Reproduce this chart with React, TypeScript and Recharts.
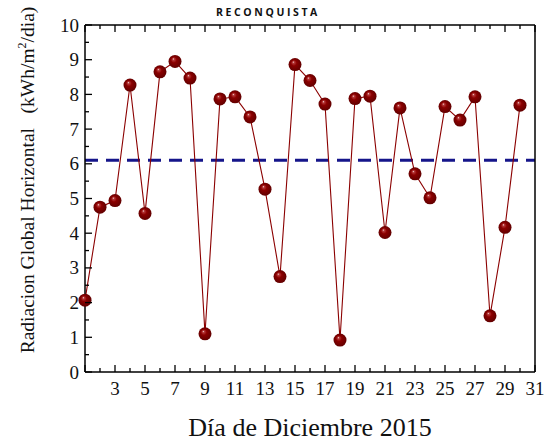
import React from 'react';
import { LineChart, Line, XAxis, YAxis, ReferenceLine } from 'recharts';

// Daily global horizontal radiation, Reconquista, December 2015
const days = [
  1, 2, 3, 4, 5, 6, 7, 8, 9, 10, 11, 12, 13, 14, 15,
  16, 17, 18, 19, 20, 21, 22, 23, 24, 25, 26, 27, 28, 29, 30,
];
const radiation = [
  2.07, 4.75, 4.94, 8.27, 4.57, 8.65, 8.95, 8.47, 1.1, 7.87,
  7.93, 7.35, 5.27, 2.75, 8.86, 8.4, 7.72, 0.92, 7.88, 7.95,
  4.02, 7.61, 5.71, 5.02, 7.65, 7.26, 7.93, 1.62, 4.17, 7.69,
];
const monthlyMean = 6.1;

const xTicks = [
  1, 2, 3, 4, 5, 6, 7, 8, 9, 10, 11, 12, 13, 14, 15, 16,
  17, 18, 19, 20, 21, 22, 23, 24, 25, 26, 27, 28, 29, 30, 31,
];
const yTicks = [
  0, 0.5, 1, 1.5, 2, 2.5, 3, 3.5, 4, 4.5, 5, 5.5, 6, 6.5, 7, 7.5, 8, 8.5, 9, 9.5, 10,
];

const data = days.map((day, i) => ({ day, value: radiation[i] }));

const SERIF = '"Liberation Serif", "Times New Roman", serif';
const TICK_FONT = 19;

const BottomTick = (props: any) => {
  const { x, y, payload } = props;
  const v = payload.value;
  const major = v % 2 === 1;
  return (
    <g>
      <line x1={x} x2={x} y1={y} y2={y - (major ? 7 : 4)} stroke="#000" strokeWidth={1.3} />
      {major && v >= 3 && (
        <text x={x} y={y + 23} textAnchor="middle" fontFamily={SERIF} fontSize={TICK_FONT} fill="#111">
          {v}
        </text>
      )}
    </g>
  );
};

const TopTick = (props: any) => {
  const { x, y, payload } = props;
  const major = payload.value % 2 === 1;
  return <line x1={x} x2={x} y1={y} y2={y + (major ? 7 : 4)} stroke="#000" strokeWidth={1.3} />;
};

const LeftTick = (props: any) => {
  const { x, y, payload } = props;
  const v = payload.value;
  const major = Number.isInteger(v);
  return (
    <g>
      <line x1={x} x2={x + (major ? 7 : 4)} y1={y} y2={y} stroke="#000" strokeWidth={1.3} />
      {major && (
        <text x={x - 6} y={y + 6.5} textAnchor="end" fontFamily={SERIF} fontSize={TICK_FONT} fill="#111">
          {v}
        </text>
      )}
    </g>
  );
};

const RightTick = (props: any) => {
  const { x, y, payload } = props;
  const major = Number.isInteger(payload.value);
  return <line x1={x} x2={x - (major ? 7 : 4)} y1={y} y2={y} stroke="#000" strokeWidth={1.3} />;
};

const Ball = (props: any) => {
  const { cx, cy, index } = props;
  if (cx == null || cy == null) return null;
  return <circle key={`ball-${index}`} cx={cx} cy={cy} r={6.5} fill="url(#ballFill)" />;
};

export default function App() {
  return (
    <div style={{ position: 'absolute', left: 0, top: 0, width: 551, height: 446, background: '#fff' }}>
      <LineChart
        width={551}
        height={446}
        data={data}
        margin={{ top: 0, right: 0, bottom: 0, left: 0 }}
      >
        <defs>
          <radialGradient id="ballFill" cx="50%" cy="50%" r="55%" fx="36%" fy="30%">
            <stop offset="0%" stopColor="#fbe6e6" />
            <stop offset="14%" stopColor="#b53a3a" />
            <stop offset="40%" stopColor="#8b0000" />
            <stop offset="100%" stopColor="#5c0000" />
          </radialGradient>
        </defs>
        <XAxis
          xAxisId="bottom"
          dataKey="day"
          type="number"
          domain={[1, 31]}
          ticks={xTicks}
          interval={0}
          height={74}
          tickSize={0}
          tickMargin={0}
          tickLine={false}
          axisLine={{ stroke: '#000', strokeWidth: 1.5 }}
          tick={<BottomTick />}
        />
        <XAxis
          xAxisId="top"
          orientation="top"
          dataKey="day"
          type="number"
          domain={[1, 31]}
          ticks={xTicks}
          interval={0}
          height={25}
          tickSize={0}
          tickMargin={0}
          tickLine={false}
          axisLine={{ stroke: '#000', strokeWidth: 1.5 }}
          tick={<TopTick />}
        />
        <YAxis
          yAxisId="left"
          type="number"
          domain={[0, 10]}
          ticks={yTicks}
          interval={0}
          width={85}
          tickSize={0}
          tickMargin={0}
          tickLine={false}
          axisLine={{ stroke: '#000', strokeWidth: 1.5 }}
          tick={<LeftTick />}
        />
        <YAxis
          yAxisId="right"
          orientation="right"
          type="number"
          domain={[0, 10]}
          ticks={yTicks}
          interval={0}
          width={16}
          tickSize={0}
          tickMargin={0}
          tickLine={false}
          axisLine={{ stroke: '#000', strokeWidth: 1.5 }}
          tick={<RightTick />}
        />
        <ReferenceLine
          xAxisId="bottom"
          yAxisId="left"
          y={monthlyMean}
          stroke="#15158a"
          strokeWidth={3}
          strokeDasharray="13 8"
        />
        <Line
          xAxisId="bottom"
          yAxisId="left"
          dataKey="value"
          type="linear"
          stroke="#8b0000"
          strokeWidth={1.1}
          dot={<Ball />}
          activeDot={false}
          isAnimationActive={false}
        />
      </LineChart>
      <svg
        width={551}
        height={446}
        style={{ position: 'absolute', left: 0, top: 0, pointerEvents: 'none' }}
      >
        <text
          x={268}
          y={16}
          textAnchor="middle"
          fontFamily='"Open Sans", sans-serif'
          fontWeight={700}
          fontSize={10.5}
          letterSpacing={2.6}
          fill="#111"
        >
          RECONQUISTA
        </text>
        <text x={310} y={436} textAnchor="middle" fontFamily={SERIF} fontSize={26} fill="#111">
          Día de Diciembre 2015
        </text>
        <text
          transform="translate(34, 180) rotate(-90)"
          textAnchor="middle"
          fontFamily={SERIF}
          fontSize={19.5}
          fill="#111"
        >
          <tspan>Radiacion Global Horizontal{'\u00a0\u00a0\u00a0'}(kWh/m</tspan>
          <tspan fontSize={12} dy={-8}>2</tspan>
          <tspan dy={8}>/dia)</tspan>
        </text>
      </svg>
    </div>
  );
}
